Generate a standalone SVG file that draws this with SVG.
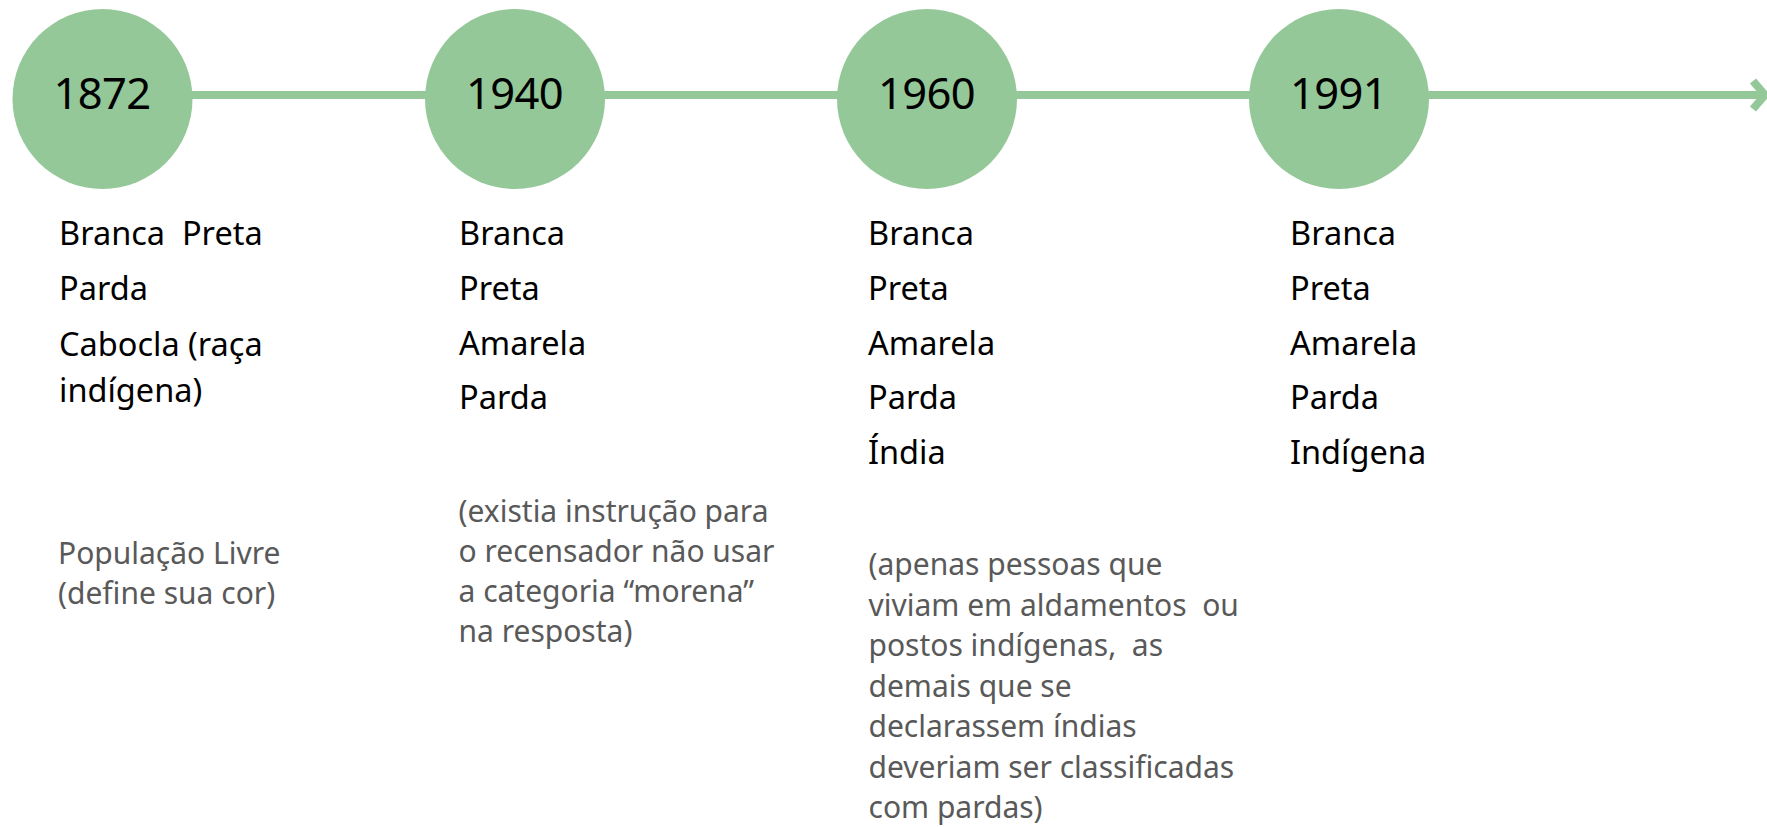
<svg xmlns="http://www.w3.org/2000/svg" width="1767" height="827" viewBox="0 0 1767 827">
<style>
  .dot { fill: #94C899; }
  .conn { stroke: #94C899; stroke-width: 8; fill: none; }
  text { white-space: pre; }
  .year { font-family: "Noto Sans", "Open Sans", sans-serif; font-size: 43.5px; fill: #000; text-anchor: middle; letter-spacing: -0.6px; }
  .cat { font-family: "Noto Sans", "Open Sans", sans-serif; font-size: 32.5px; fill: #000; }
  .note { font-family: "Noto Sans", "Open Sans", sans-serif; font-size: 30px; fill: #595959; }
</style>
<rect width="1767" height="827" fill="#ffffff"/>
<g id="connectors">
  <line class="conn" x1="102" y1="95" x2="1763" y2="95"/>
  <path class="conn" d="M1753 81 L1765 95 L1753 109"/>
</g>
<g id="node-1872">
  <circle class="dot" cx="102.5" cy="99" r="90"/>
  <text class="year" x="102" y="108.5">1872</text>
  <text class="cat" x="59" y="245" xml:space="preserve">Branca  Preta</text>
  <text class="cat" x="59" y="300">Parda</text>
  <text class="cat" x="59" y="356">Cabocla (raça</text>
  <text class="cat" x="59" y="402">indígena)</text>
  <text class="note" x="58" y="564">População Livre</text>
  <text class="note" x="58" y="604">(define sua cor)</text>
</g>
<g id="node-1940">
  <circle class="dot" cx="515" cy="99" r="90"/>
  <text class="year" x="514.5" y="108.5">1940</text>
  <text class="cat" x="459" y="245">Branca</text>
  <text class="cat" x="459" y="300">Preta</text>
  <text class="cat" x="459" y="354.5">Amarela</text>
  <text class="cat" x="459" y="409">Parda</text>
  <text class="note" x="458.5" y="521.7">(existia instrução para</text>
  <text class="note" x="458.5" y="561.7">o recensador não usar</text>
  <text class="note" x="458.5" y="601.7">a categoria “morena”</text>
  <text class="note" x="458.5" y="641.7">na resposta)</text>
</g>
<g id="node-1960">
  <circle class="dot" cx="927" cy="99" r="90"/>
  <text class="year" x="926.5" y="108.5">1960</text>
  <text class="cat" x="868" y="245">Branca</text>
  <text class="cat" x="868" y="300">Preta</text>
  <text class="cat" x="868" y="354.5">Amarela</text>
  <text class="cat" x="868" y="409">Parda</text>
  <text class="cat" x="868" y="464">Índia</text>
  <text class="note" x="868.5" y="575">(apenas pessoas que</text>
  <text class="note" x="868.5" y="615.5" xml:space="preserve">viviam em aldamentos  ou</text>
  <text class="note" x="868.5" y="656" xml:space="preserve">postos indígenas,  as</text>
  <text class="note" x="868.5" y="696.5">demais que se</text>
  <text class="note" x="868.5" y="737">declarassem índias</text>
  <text class="note" x="868.5" y="777.5">deveriam ser classificadas</text>
  <text class="note" x="868.5" y="818">com pardas)</text>
</g>
<g id="node-1991">
  <circle class="dot" cx="1339" cy="99" r="90"/>
  <text class="year" x="1338.5" y="108.5">1991</text>
  <text class="cat" x="1290" y="245">Branca</text>
  <text class="cat" x="1290" y="300">Preta</text>
  <text class="cat" x="1290" y="354.5">Amarela</text>
  <text class="cat" x="1290" y="409">Parda</text>
  <text class="cat" x="1290" y="464">Indígena</text>
</g>
</svg>
